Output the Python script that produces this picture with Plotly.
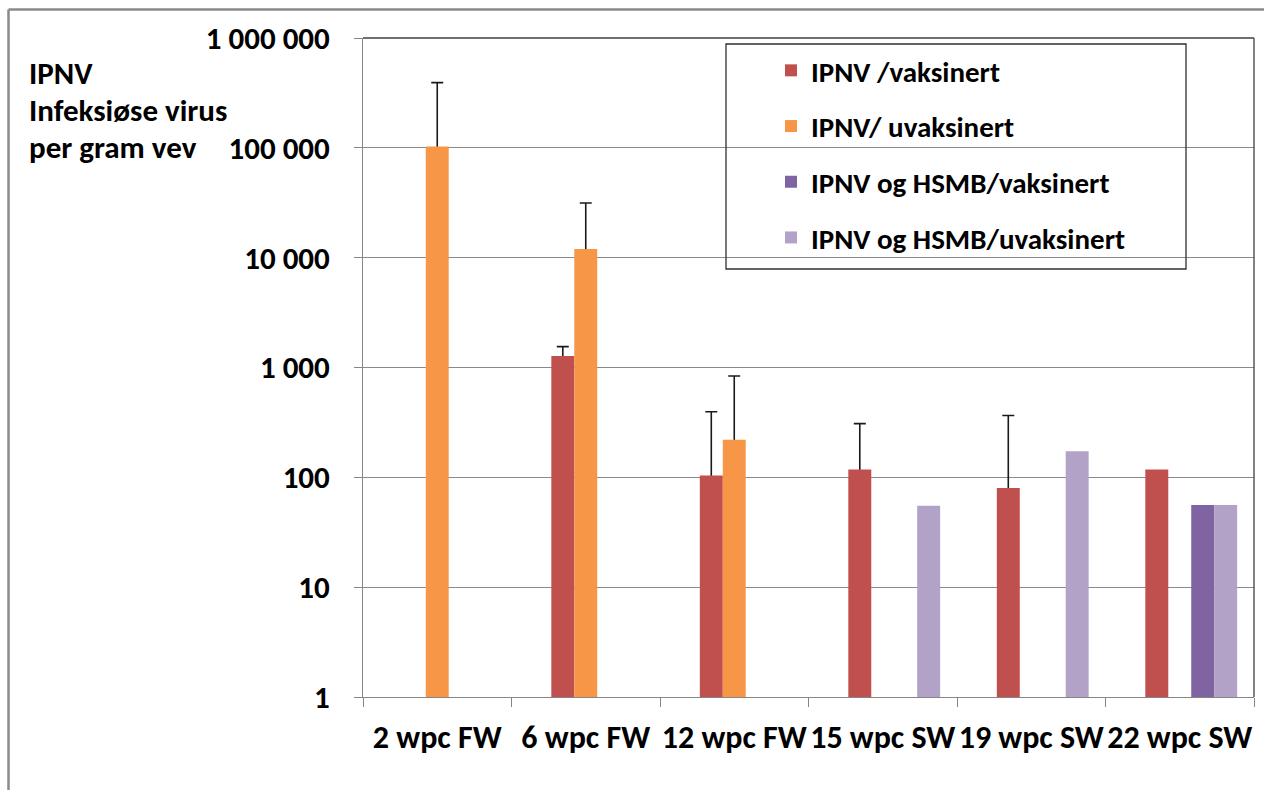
import plotly.graph_objects as go

# ---------------- data ----------------
categories = ["2 wpc FW", "6 wpc FW", "12 wpc FW", "15 wpc SW", "19 wpc SW", "22 wpc SW"]

ipnv_vax = [None, 1270, 104, 118, 80, 118]
ipnv_unvax = [103000, 12000, 220, None, None, None]
ipnv_hsmb_vax = [None, None, None, None, None, 56]
ipnv_hsmb_unvax = [None, None, None, 55, 173, 56]

# plus error (upper whisker length)
ipnv_vax_err = [None, 280, 292, 190, 285, None]
ipnv_unvax_err = [289000, 19500, 617, None, None, None]

series_names = ["IPNV /vaksinert", "IPNV/ uvaksinert",
                "IPNV og HSMB/vaksinert", "IPNV og HSMB/uvaksinert"]
series_colors = ["#C0504D", "#F79646", "#8064A2", "#B2A2C7"]

ytick_vals = [1, 10, 100, 1000, 10000, 100000, 1000000]
ytick_text = ["1", "10", "100", "1 000", "10 000", "100 000", "1 000 000"]

title_lines = ["IPNV", "Infeksiøse virus", "per gram vev"]

FONT = "Carlito, Lato, 'Liberation Sans', sans-serif"

fig = go.Figure()

# empty series occupying the first slot of each cluster (as in the source chart)
fig.add_trace(go.Bar(x=categories, y=[None] * len(categories), offsetgroup="g0",
                     showlegend=False, hoverinfo="skip"))

# whisker carriers (drawn first so the bars cover the lower half of each error bar)
for vals, errs, grp in [(ipnv_vax, ipnv_vax_err, "g1"), (ipnv_unvax, ipnv_unvax_err, "g2")]:
    wv = [v if e is not None else None for v, e in zip(vals, errs)]
    fig.add_trace(go.Bar(
        x=categories, y=wv, offsetgroup=grp, showlegend=False, hoverinfo="skip",
        marker=dict(color="rgba(0,0,0,0)", line=dict(width=0)),
        error_y=dict(type="data", array=errs, symmetric=True, color="#1a1a1a",
                     thickness=1.6, width=6),
    ))

for vals, name, color, grp in zip(
        [ipnv_vax, ipnv_unvax, ipnv_hsmb_vax, ipnv_hsmb_unvax],
        series_names, series_colors, ["g1", "g2", "g3", "g4"]):
    fig.add_trace(go.Bar(
        x=categories, y=vals, name=name, offsetgroup=grp, legendgroup=name,
        marker=dict(color=color, line=dict(width=0)),
    ))

L, R, T, B = 363, 10, 38, 93
W, H = 1264, 790
pw, ph = W - L - R, H - T - B


def px(x):
    return (x - L) / pw


def py(y):
    return (H - B - y) / ph


fig.update_layout(
    width=W, height=H,
    margin=dict(l=L, r=R, t=T, b=B, autoexpand=False),
    paper_bgcolor="white", plot_bgcolor="white",
    barmode="group", bargap=0.227, bargroupgap=0,
    font=dict(family=FONT, color="#000000"),
    showlegend=True,
    legend=dict(
        x=px(771), y=py(45), xanchor="left", yanchor="top",
        bgcolor="rgba(0,0,0,0)", borderwidth=0,
        font=dict(family=FONT, size=29, color="#000000", weight="bold"),
        traceorder="grouped", tracegroupgap=15,
    ),
    xaxis=dict(
        type="category", showgrid=False, showline=True, linecolor="#868686", linewidth=1,
        ticks="outside", tickson="boundaries", ticklen=9, tickcolor="#868686",
        tickfont=dict(family=FONT, size=32, color="#000000", weight="bold"),
        ticklabelstandoff=12, tickangle=0, automargin=False,
    ),
    yaxis=dict(
        type="log", range=[0, 6], showgrid=True, gridcolor="#8a8a8a", gridwidth=1,
        showline=True, linecolor="#868686", linewidth=1,
        ticks="outside", ticklen=8, tickcolor="#868686",
        tickvals=ytick_vals, ticktext=ytick_text,
        tickfont=dict(family=FONT, size=31, color="#000000", weight="bold"),
        ticklabelstandoff=18, zeroline=False, automargin=False,
    ),
)

shapes = [
    # plot area border (top / right)
    dict(type="line", xref="paper", yref="paper", x0=0, x1=1, y0=1, y1=1,
         line=dict(color="#404040", width=1.3)),
    dict(type="line", xref="paper", yref="paper", x0=1, x1=1, y0=0, y1=1,
         line=dict(color="#404040", width=1.3)),
    # legend frame
    dict(type="rect", xref="paper", yref="paper", x0=px(726), x1=px(1186),
         y0=py(269), y1=py(44), line=dict(color="#303030", width=1.3),
         fillcolor="rgba(0,0,0,0)"),
    # outer chart frame (cropped on right/bottom)
    dict(type="line", xref="paper", yref="paper", x0=px(8.5), x1=px(8.5),
         y0=py(800), y1=py(9.5), line=dict(color="#8a8a8a", width=2.5)),
    dict(type="line", xref="paper", yref="paper", x0=px(8.5), x1=px(1280),
         y0=py(9.5), y1=py(9.5), line=dict(color="#8a8a8a", width=2.5)),
]
fig.update_layout(shapes=shapes)

for line, ycen in zip(title_lines, [73, 110, 147]):
    fig.add_annotation(
        text=line, xref="paper", yref="paper", x=px(27), y=py(ycen),
        xanchor="left", yanchor="middle", showarrow=False, align="left",
        font=dict(family=FONT, size=31, color="#000000", weight="bold"),
    )

fig.write_html("out.html")
